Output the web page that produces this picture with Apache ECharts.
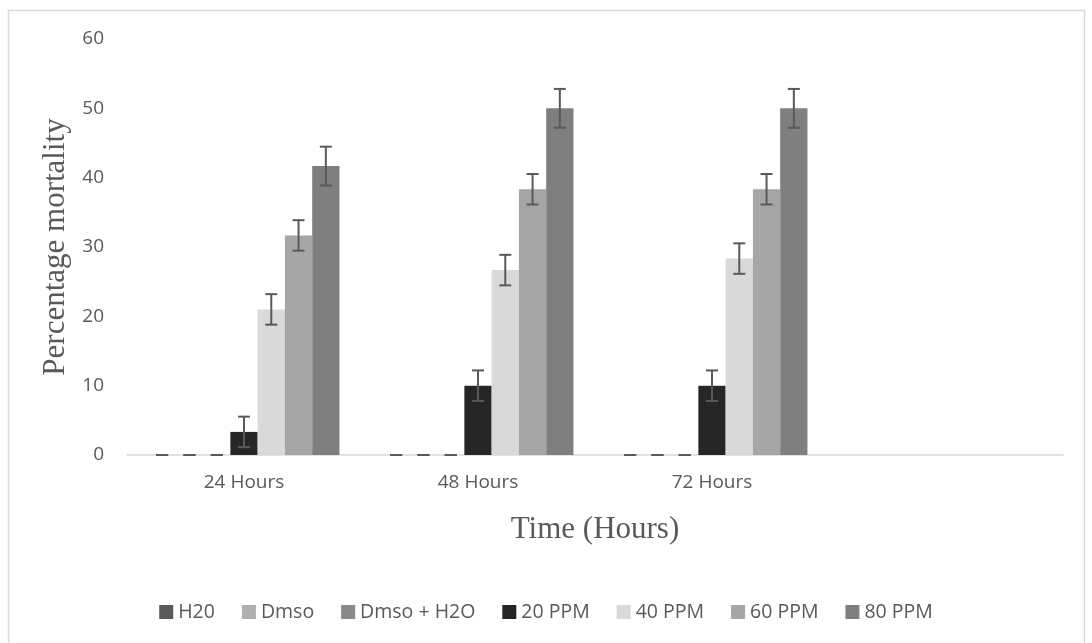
<!DOCTYPE html>
<html>
<head>
<meta charset="utf-8">
<script src="https://cdn.jsdelivr.net/npm/echarts@6/dist/echarts.min.js"></script>
<style>
html,body{margin:0;padding:0;background:#fff;}
#chart{width:1092px;height:643px;}
</style>
</head>
<body>
<div id="chart"></div>
<script>
const categories = ['24 Hours', '48 Hours', '72 Hours', ''];
const seriesNames = ['H20', 'Dmso', 'Dmso + H2O', '20 PPM', '40 PPM', '60 PPM', '80 PPM'];
const h20 = [0, 0, 0];
const dmso = [0, 0, 0];
const dmsoH2o = [0, 0, 0];
const ppm20 = [3.33, 10, 10];
const ppm40 = [21, 26.67, 28.33];
const ppm60 = [31.67, 38.33, 38.33];
const ppm80 = [41.67, 50, 50];
const errH20 = [0, 0, 0];
const errDmso = [0, 0, 0];
const errDmsoH2o = [0, 0, 0];
const err20 = [2.2, 2.2, 2.2];
const err40 = [2.2, 2.2, 2.2];
const err60 = [2.2, 2.2, 2.2];
const err80 = [2.8, 2.8, 2.8];
const yTicks = [0, 10, 20, 30, 40, 50, 60];

const values = [h20, dmso, dmsoH2o, ppm20, ppm40, ppm60, ppm80];
const errors = [errH20, errDmso, errDmsoH2o, err20, err40, err60, err80];
const colors = ['#5b5b5b', '#b0b0b0', '#8a8a8a', '#262626', '#d9d9d9', '#a6a6a6', '#7f7f7f'];
const GAP = 0.184;
const N = seriesNames.length;

const errData = [];
values.forEach((arr, s) => {
  arr.forEach((v, c) => errData.push([c, s, v, errors[s][c]]));
});

const barSeries = seriesNames.map((name, i) => ({
  name: name,
  type: 'bar',
  data: values[i],
  barGap: '0%',
  barCategoryGap: (GAP * 100) + '%',
  itemStyle: { color: colors[i] },
  z: 2
}));

const errSeries = {
  type: 'custom',
  name: 'err',
  data: errData,
  z: 5,
  silent: true,
  encode: { x: 0, y: 2 },
  renderItem: function (params, api) {
    const c = api.value(0), s = api.value(1), v = api.value(2), e = api.value(3);
    const band = api.size([1, 0])[0];
    const bw = band * (1 - GAP) / N;
    const base = api.coord([c, v]);
    const x = base[0] + (s - (N - 1) / 2) * bw;
    const top = api.coord([c, v + e])[1];
    const bot = api.coord([c, v - e])[1];
    const hw = 6;
    const st = { stroke: '#595959', lineWidth: 2 };
    return {
      type: 'group',
      children: [
        { type: 'line', shape: { x1: x, y1: top, x2: x, y2: bot }, style: st },
        { type: 'line', shape: { x1: x - hw, y1: top, x2: x + hw, y2: top }, style: st },
        { type: 'line', shape: { x1: x - hw, y1: bot, x2: x + hw, y2: bot }, style: st }
      ]
    };
  }
};

const chart = echarts.init(document.getElementById('chart'));
chart.setOption({
  animation: false,
  backgroundColor: '#ffffff',
  graphic: [{
    type: 'rect',
    shape: { x: 8.5, y: 10.5, width: 1076, height: 650 },
    style: { fill: 'none', stroke: '#d9d9d9', lineWidth: 1.5 },
    silent: true,
    z: 0
  }],
  grid: { left: 127, right: 29, top: 39, bottom: 188 },
  legend: {
    data: seriesNames,
    top: 597,
    left: 'center',
    itemWidth: 14,
    itemHeight: 14,
    itemGap: 27,
    icon: 'rect',
    textStyle: { fontFamily: 'Open Sans', fontSize: 19.5, color: '#595959' }
  },
  xAxis: {
    type: 'category',
    data: categories,
    axisTick: { show: false },
    axisLine: { lineStyle: { color: '#d9d9d9', width: 1.5 } },
    axisLabel: { fontFamily: 'Open Sans', fontSize: 19, color: '#595959', margin: 18 },
    name: 'Time (Hours)',
    nameLocation: 'middle',
    nameGap: 59,
    nameTextStyle: { fontFamily: 'Liberation Serif', fontSize: 31, color: '#595959' }
  },
  yAxis: {
    type: 'value',
    min: yTicks[0],
    max: yTicks[yTicks.length - 1],
    interval: 10,
    splitLine: { show: false },
    axisLine: { show: false },
    axisTick: { show: false },
    axisLabel: { fontFamily: 'Open Sans', fontSize: 19, color: '#595959', margin: 23 },
    name: 'Percentage mortality',
    nameLocation: 'middle',
    nameGap: 55,
    nameTextStyle: { fontFamily: 'Liberation Serif', fontSize: 31, color: '#595959' }
  },
  series: barSeries.concat([errSeries])
});
</script>
</body>
</html>
